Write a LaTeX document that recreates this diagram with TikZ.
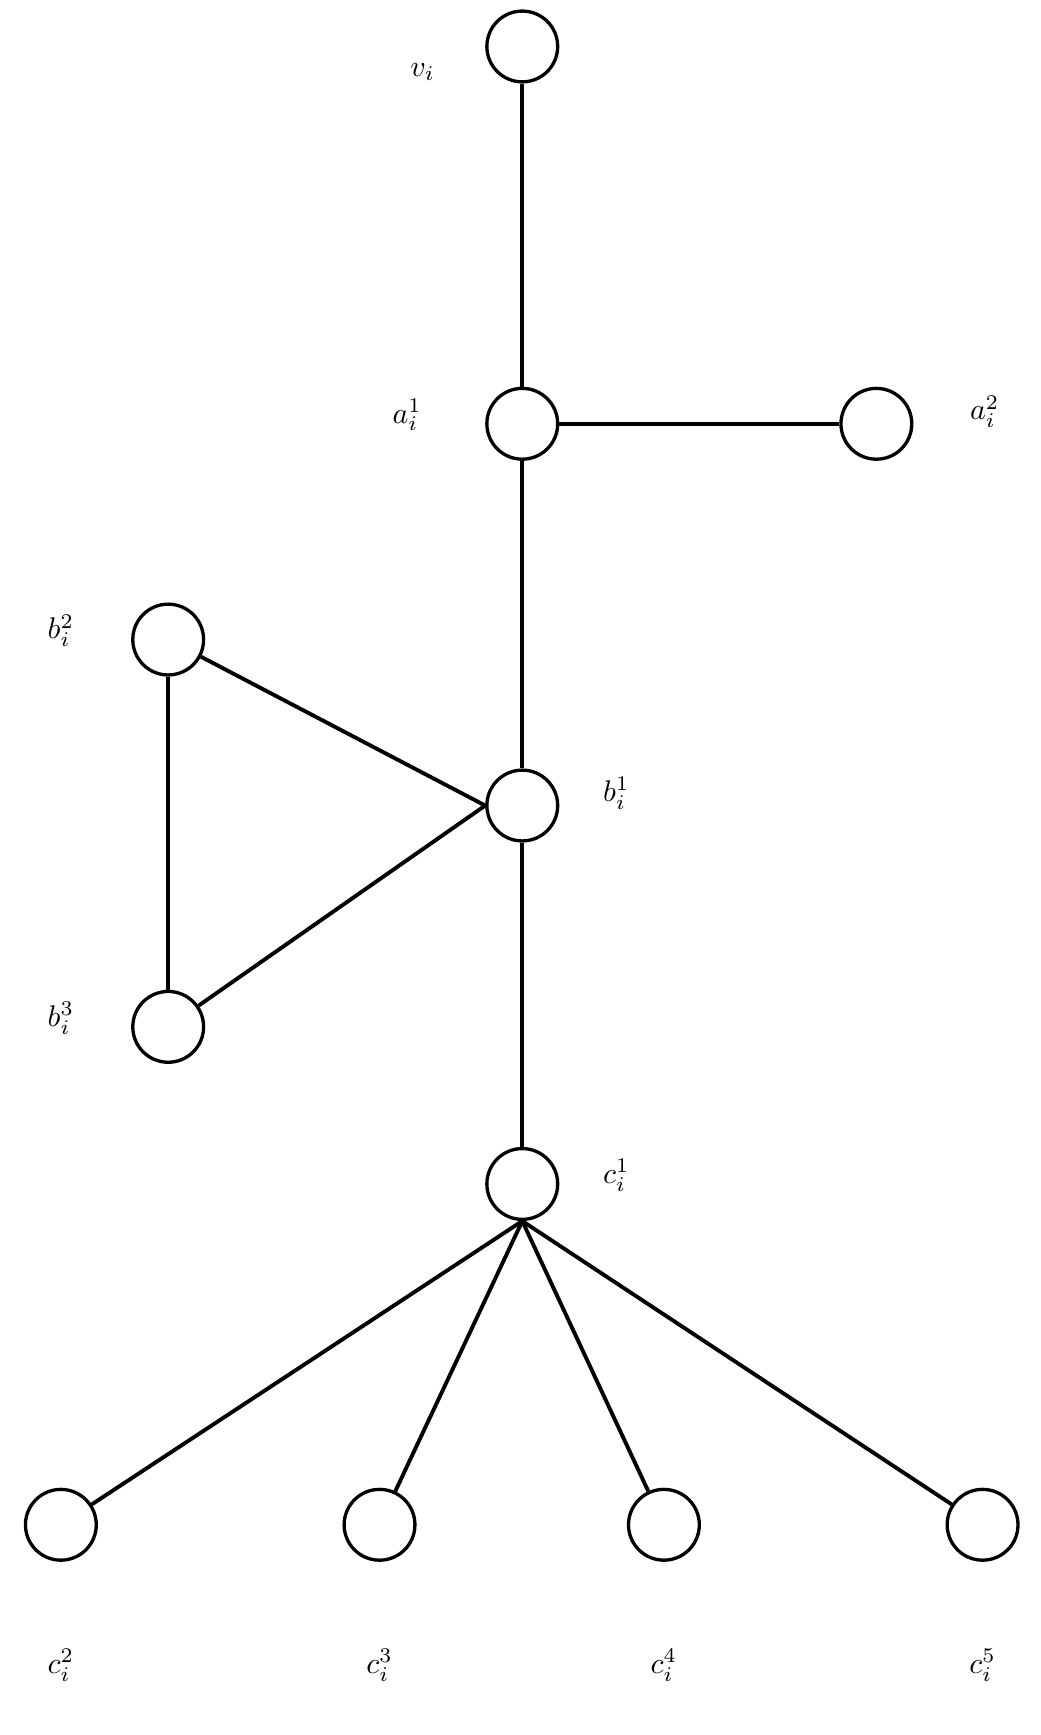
\documentclass[tikz,border=0pt]{standalone}
\newcommand{\lb}[1]{\scalebox{2.7}{$#1$}}
\begin{document}
\begin{tikzpicture}[x=1pt,y=-1pt,
  vtx/.style={circle,draw,line width=3pt,minimum size=64pt,inner sep=0pt,fill=white},
  lbl/.style={inner sep=0pt},
  edge/.style={line width=3.5pt}]
\useasboundingbox (0,0) rectangle (940,1568);
\node[vtx] (v) at (472,42) {};
\node[vtx] (a1) at (472,383) {};
\node[vtx] (a2) at (792,383) {};
\node[vtx] (b2) at (152,578) {};
\node[vtx] (b1) at (472,728) {};
\node[vtx] (b3) at (152,928) {};
\node[vtx] (c1) at (472,1070) {};
\node[vtx] (c2) at (55,1378) {};
\node[vtx] (c3) at (343,1378) {};
\node[vtx] (c4) at (600,1378) {};
\node[vtx] (c5) at (888,1378) {};
\draw[edge] (v) -- (a1);
\draw[edge] (a1) -- (a2);
\draw[edge] (a1) -- (b1);
\draw[edge] (b1) -- (c1);
\draw[edge] (b2) -- (b3);
\draw[edge] (b1.west) -- (b2);
\draw[edge] (b1.west) -- (b3);
\draw[edge] (c1.south) -- (c2);
\draw[edge] (c1.south) -- (c3);
\draw[edge] (c1.south) -- (c4);
\draw[edge] (c1.south) -- (c5);
\node[lbl] (lv) at (382,65) {\lb{v_i}};
\node[lbl] (la1) at (368,375) {\lb{a_i^1}};
\node[lbl] (la2) at (890,372) {\lb{a_i^2}};
\node[lbl] (lb2) at (55,570) {\lb{b_i^2}};
\node[lbl] (lb1) at (557,717) {\lb{b_i^1}};
\node[lbl] (lb3) at (55,920) {\lb{b_i^3}};
\node[lbl] (lc1) at (557,1062) {\lb{c_i^1}};
\node[lbl] (lc2) at (55,1505) {\lb{c_i^2}};
\node[lbl] (lc3) at (343,1505) {\lb{c_i^3}};
\node[lbl] (lc4) at (600,1505) {\lb{c_i^4}};
\node[lbl] (lc5) at (888,1505) {\lb{c_i^5}};
\end{tikzpicture}
\end{document}
